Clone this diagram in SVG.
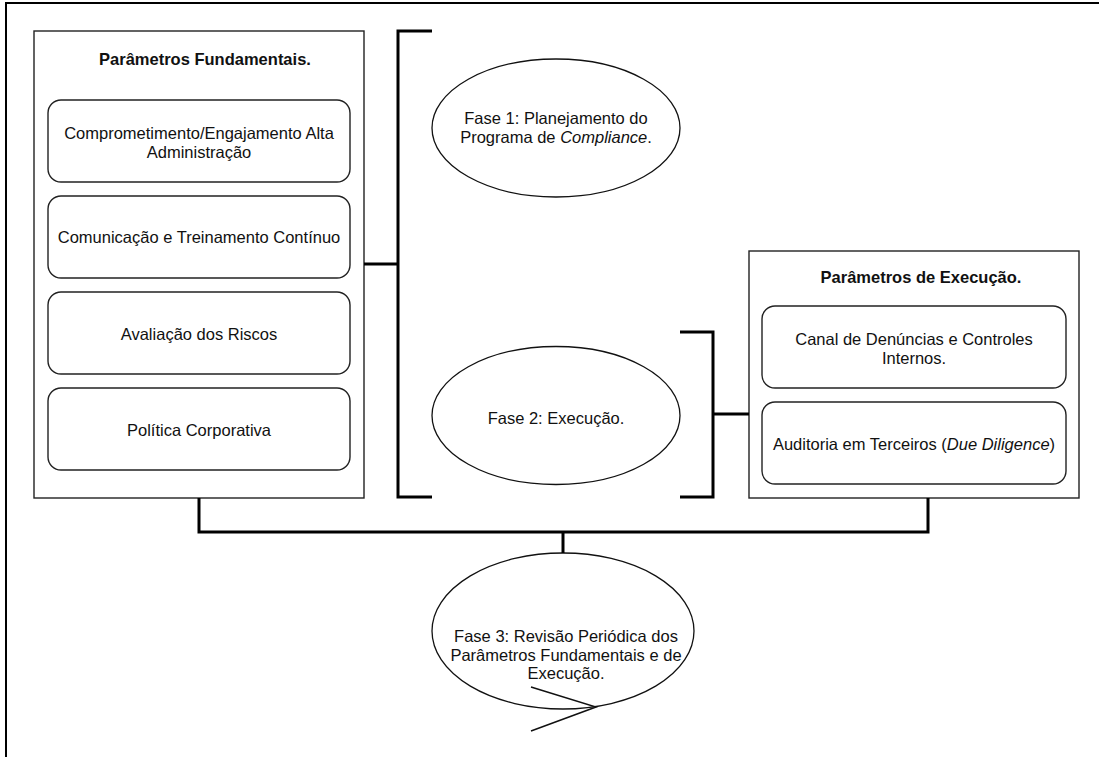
<svg xmlns="http://www.w3.org/2000/svg" width="1099" height="757" viewBox="0 0 1099 757">
<style>
text{font-family:"Liberation Sans",Arial,sans-serif;font-size:16.5px;fill:#111;text-anchor:middle}
.b{font-weight:bold}
.box{fill:#fff;stroke:#222;stroke-width:1.4}
.ell{fill:#fff;stroke:#111;stroke-width:1.3}
.con{fill:none;stroke:#000;stroke-width:3}
</style>
<rect width="1099" height="757" fill="#fff"/>
<path d="M6,757 V3 H1099" fill="none" stroke="#000" stroke-width="2"/>
<g id="fundamentais">
<rect class="box" x="34" y="31" width="330" height="467"/>
<text class="b" x="205" y="64.5">Parâmetros Fundamentais.</text>
</g>
<g id="comprometimento">
<rect class="box" x="48" y="100" width="302" height="82" rx="13"/>
<text x="199" y="139">Comprometimento/Engajamento Alta</text>
<text x="199" y="157.5">Administração</text>
</g>
<g id="comunicacao">
<rect class="box" x="48" y="196" width="302" height="82" rx="13"/>
<text x="199" y="243">Comunicação e Treinamento Contínuo</text>
</g>
<g id="avaliacao">
<rect class="box" x="48" y="292" width="302" height="82" rx="13"/>
<text x="199" y="339.5">Avaliação dos Riscos</text>
</g>
<g id="politica">
<rect class="box" x="48" y="388" width="302" height="82" rx="13"/>
<text x="199" y="435.5">Política Corporativa</text>
</g>
<g id="fase1">
<ellipse class="ell" cx="556" cy="128" rx="124" ry="69"/>
<text x="556" y="124">Fase 1: Planejamento do</text>
<text x="556" y="143">Programa de <tspan font-style="italic">Compliance</tspan>.</text>
</g>
<g id="fase2">
<ellipse class="ell" cx="556" cy="415.5" rx="124" ry="69"/>
<text x="556" y="424">Fase 2: Execução.</text>
</g>
<g id="execucao">
<rect class="box" x="749" y="251" width="330" height="247"/>
<text class="b" x="921" y="283">Parâmetros de Execução.</text>
</g>
<g id="canal">
<rect class="box" x="762" y="306" width="304" height="82" rx="13"/>
<text x="914" y="345">Canal de Denúncias e Controles</text>
<text x="914" y="363.5">Internos.</text>
</g>
<g id="auditoria">
<rect class="box" x="762" y="402" width="304" height="82" rx="13"/>
<text x="914" y="450">Auditoria em Terceiros (<tspan font-style="italic">Due Diligence</tspan>)</text>
</g>
<g id="fase3">
<ellipse class="ell" cx="563" cy="631" rx="131" ry="78"/>
<text x="566" y="642">Fase 3: Revisão Periódica dos</text>
<text x="566" y="660.5">Parâmetros Fundamentais e de</text>
<text x="566" y="679">Execução.</text>
</g>
<g id="connectors">
<path class="con" d="M432,31 H398 V497 H432"/>
<path class="con" d="M364,264 H398"/>
<path class="con" d="M680,332 H713 V497 H680"/>
<path class="con" d="M713,414 H749"/>
<path class="con" d="M199,498 V532 H928 V498"/>
<path class="con" d="M563,532 V553"/>
<path d="M531,687 L596,707 L531,731" fill="none" stroke="#111" stroke-width="1.5"/>
</g>
</svg>
